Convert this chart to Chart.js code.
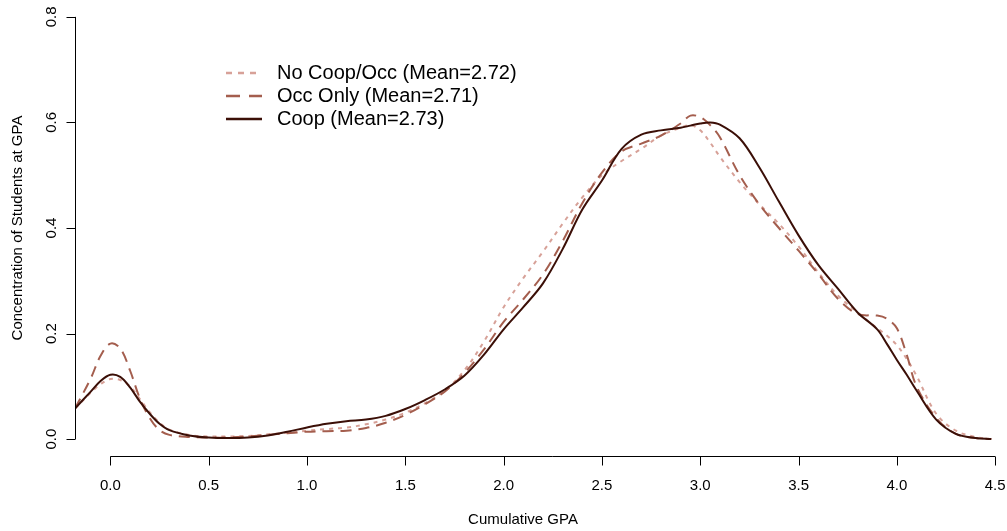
<!DOCTYPE html>
<html>
<head>
<meta charset="utf-8">
<script src="https://cdn.jsdelivr.net/npm/chart.js@4.4.1/dist/chart.umd.min.js"></script>
<style>
  html, body { margin: 0; padding: 0; background: #fff; }
  #wrap { width: 1007px; height: 531px; }
</style>
</head>
<body>
<div id="wrap"><canvas id="gpaChart" width="1007" height="531"></canvas></div>
<script>
// GPA-Raster
const gpa = [-0.18, -0.1, -0.05, 0, 0.05, 0.1, 0.15, 0.2, 0.25, 0.3, 0.4, 0.5, 0.6, 0.7, 0.8, 0.9,
    1.0, 1.1, 1.2, 1.3, 1.4, 1.5, 1.6, 1.7, 1.8, 1.9, 2.0, 2.1, 2.2, 2.3, 2.4, 2.5, 2.6, 2.7, 2.8, 2.9,
    2.95, 3.0, 3.05, 3.1, 3.2, 3.3, 3.4, 3.5, 3.6, 3.7, 3.8, 3.9, 3.95, 4.0, 4.05, 4.1, 4.2, 4.3, 4.4, 4.48];

const noCoopOcc = [0.058, 0.088, 0.104, 0.114, 0.112, 0.100, 0.076, 0.051, 0.031, 0.018, 0.008, 0.005,
    0.005, 0.006, 0.009, 0.012, 0.016, 0.019, 0.022, 0.028, 0.037, 0.050, 0.068, 0.092, 0.130, 0.185,
    0.250, 0.305, 0.355, 0.408, 0.458, 0.500, 0.527, 0.550, 0.575, 0.590, 0.595, 0.585, 0.562, 0.535,
    0.487, 0.445, 0.408, 0.365, 0.316, 0.272, 0.240, 0.210, 0.196, 0.178, 0.152, 0.120, 0.048, 0.016,
    0.004, 0.0];

const occOnly = [0.058, 0.115, 0.158, 0.181, 0.172, 0.130, 0.077, 0.040, 0.017, 0.008, 0.004, 0.003,
    0.003, 0.005, 0.008, 0.011, 0.014, 0.015, 0.016, 0.021, 0.031, 0.046, 0.066, 0.090, 0.125, 0.170,
    0.222, 0.265, 0.312, 0.375, 0.447, 0.505, 0.545, 0.560, 0.575, 0.598, 0.613, 0.610, 0.595, 0.572,
    0.500, 0.445, 0.400, 0.357, 0.313, 0.266, 0.237, 0.234, 0.228, 0.210, 0.160, 0.100, 0.040, 0.010,
    0.002, 0.0];

const coop = [0.058, 0.090, 0.110, 0.122, 0.118, 0.098, 0.071, 0.048, 0.029, 0.017, 0.007, 0.003,
    0.002, 0.003, 0.007, 0.014, 0.022, 0.029, 0.034, 0.037, 0.044, 0.057, 0.074, 0.094, 0.120, 0.160,
    0.208, 0.250, 0.295, 0.360, 0.435, 0.490, 0.550, 0.577, 0.585, 0.590, 0.594, 0.598, 0.600, 0.596,
    0.570, 0.515, 0.450, 0.386, 0.330, 0.285, 0.240, 0.208, 0.180, 0.150, 0.122, 0.092, 0.037, 0.010,
    0.002, 0.0];

const seriesLabels = ['No Coop/Occ (Mean=2.72)', 'Occ Only (Mean=2.71)', 'Coop (Mean=2.73)'];
const xTicks = [0.0, 0.5, 1.0, 1.5, 2.0, 2.5, 3.0, 3.5, 4.0, 4.5];
const yTicks = [0.0, 0.2, 0.4, 0.6, 0.8];
const xTitle = 'Cumulative GPA';
const yTitle = 'Concentration of Students at GPA';

const FONT = '"Liberation Sans", Arial, sans-serif';

function toPoints(ys) {
    return gpa.map((g, i) => ({ x: g, y: ys[i] }));
}

// Achsen im R-Stil (Linie nur zwischen erstem und letztem Tick) + Legende
const rStyleAxes = {
    id: 'rStyleAxes',
    afterDraw(chart) {
        const ctx = chart.ctx;
        const xs = chart.scales.x;
        const ys = chart.scales.y;
        const area = chart.chartArea;
        ctx.save();
        ctx.strokeStyle = '#000';
        ctx.fillStyle = '#000';
        ctx.lineWidth = 1;

        // x-Achse
        const xAxisY = Math.round(area.bottom) + 0.5;
        const x0 = xs.getPixelForValue(xTicks[0]);
        const x1 = xs.getPixelForValue(xTicks[xTicks.length - 1]);
        ctx.beginPath();
        ctx.moveTo(x0, xAxisY);
        ctx.lineTo(x1, xAxisY);
        xTicks.forEach(v => {
            const px = Math.round(xs.getPixelForValue(v)) + 0.5;
            ctx.moveTo(px, xAxisY);
            ctx.lineTo(px, xAxisY + 9);
        });
        ctx.stroke();
        ctx.font = '15px ' + FONT;
        ctx.textAlign = 'center';
        ctx.textBaseline = 'middle';
        xTicks.forEach(v => {
            ctx.fillText(v.toFixed(1), xs.getPixelForValue(v), 486);
        });
        ctx.fillText(xTitle, 523, 520);

        // y-Achse
        const yAxisX = Math.round(area.left) + 0.5;
        const y0 = ys.getPixelForValue(yTicks[0]);
        const y1 = ys.getPixelForValue(yTicks[yTicks.length - 1]);
        ctx.beginPath();
        ctx.moveTo(yAxisX, y0);
        ctx.lineTo(yAxisX, y1);
        yTicks.forEach(v => {
            const py = Math.round(ys.getPixelForValue(v)) + 0.5;
            ctx.moveTo(yAxisX, py);
            ctx.lineTo(yAxisX - 9, py);
        });
        ctx.stroke();
        yTicks.forEach(v => {
            ctx.save();
            ctx.translate(52, ys.getPixelForValue(v));
            ctx.rotate(-Math.PI / 2);
            ctx.fillText(v.toFixed(1), 0, 0);
            ctx.restore();
        });
        ctx.save();
        ctx.translate(18, (area.top + area.bottom) / 2);
        ctx.rotate(-Math.PI / 2);
        ctx.fillText(yTitle, 0, 0);
        ctx.restore();

        // Legende
        const rows = [73, 96, 119];
        ctx.font = '20px ' + FONT;
        ctx.textAlign = 'left';
        chart.data.datasets.forEach((ds, i) => {
            ctx.save();
            ctx.strokeStyle = ds.borderColor;
            ctx.lineWidth = 2.5;
            ctx.setLineDash(ds.legendDash);
            ctx.beginPath();
            ctx.moveTo(226, rows[i]);
            ctx.lineTo(262, rows[i]);
            ctx.stroke();
            ctx.restore();
            ctx.fillText(ds.label, 277, rows[i]);
        });
        ctx.restore();
    }
};

const ctx = document.getElementById('gpaChart').getContext('2d');
const gpaChart = new Chart(ctx, {
    type: 'line',
    data: {
        datasets: [
            {
                label: seriesLabels[0],
                data: toPoints(noCoopOcc),
                borderColor: '#D7A198',
                borderWidth: 2,
                borderDash: [4, 5],
                legendDash: [6, 6],
                order: 3
            },
            {
                label: seriesLabels[1],
                data: toPoints(occOnly),
                borderColor: '#A45E4E',
                borderWidth: 2,
                borderDash: [11, 7],
                legendDash: [14, 9],
                order: 2
            },
            {
                label: seriesLabels[2],
                data: toPoints(coop),
                borderColor: '#3B0F07',
                borderWidth: 2,
                borderDash: [],
                legendDash: [],
                order: 1
            }
        ]
    },
    options: {
        responsive: false,
        animation: false,
        layout: { padding: { left: 75, right: 0, top: 0, bottom: 75 } },
        elements: {
            point: { radius: 0 },
            line: { tension: 0.35, fill: false }
        },
        plugins: {
            legend: { display: false },
            tooltip: { enabled: false }
        },
        scales: {
            x: { type: 'linear', min: -0.18, max: 4.56, display: false },
            y: { type: 'linear', min: -0.032, max: 0.832, display: false }
        }
    },
    plugins: [rStyleAxes]
});
</script>
</body>
</html>
